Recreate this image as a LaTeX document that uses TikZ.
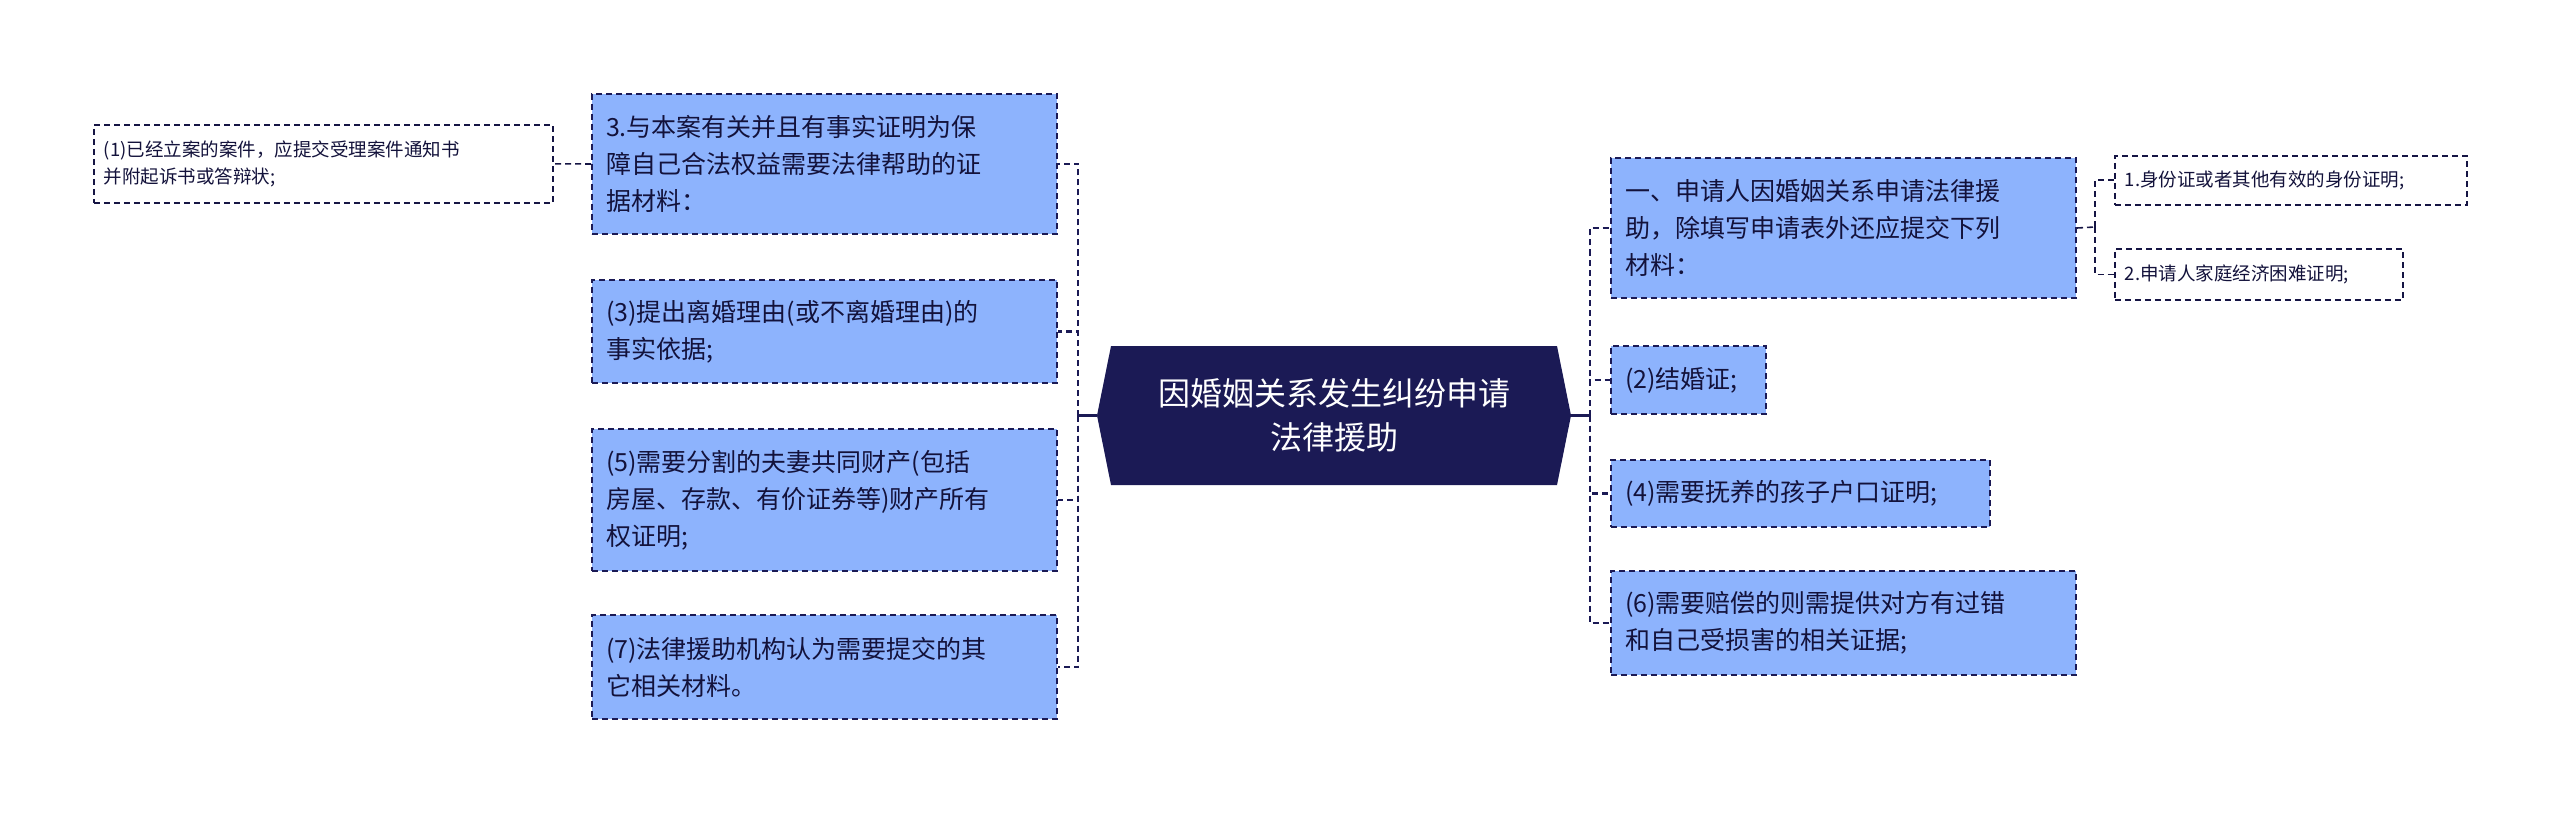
\documentclass[tikz,border=0pt]{standalone}
\usepackage{fontspec}
\setmainfont{Noto Sans CJK SC}
\definecolor{navy}{HTML}{1B1A55}
\definecolor{boxblue}{HTML}{8DB3FD}
\begin{document}
\begin{tikzpicture}[x=1pt,y=1pt,
  mainbox/.style={draw=navy,fill=boxblue,dashed,line width=2pt,dash pattern=on 6pt off 4pt,anchor=north west,align=left,inner xsep=14pt,inner ysep=0pt,font=\fontsize{25}{37}\selectfont,text=navy!70!black,minimum height=#1},
  subbox/.style={draw=navy!80!black,fill=white,line width=1.6pt,dash pattern=on 6pt off 4pt,anchor=north west,align=left,inner xsep=10pt,inner ysep=0pt,font=\fontsize{18.5}{27}\selectfont,text=navy!70!black,minimum height=#1},
  link/.style={draw=navy,line width=2.6pt,dash pattern=on 6pt off 4pt},
  sublink/.style={draw=navy!80!black,line width=1.6pt,dash pattern=on 6pt off 4pt}]
\useasboundingbox (0,0) rectangle (2560,-813);
% centre
\node[minimum width=474pt,minimum height=139pt,inner sep=0pt] (c) at (1334,-415.5) {};
\fill[navy] (1111,-346) -- (1557,-346) -- (1571,-415.5) -- (1557,-485) -- (1111,-485) -- (1097,-415.5) -- cycle;
\node[text=white,align=center,font=\fontsize{32}{44}\selectfont] at (c.center) {因婚姻关系发生纠纷申请\\法律援助};
% left boxes
\node[mainbox=140pt,text width=437pt] (a) at (591,-93) {3.与本案有关并且有事实证明为保\\障自己合法权益需要法律帮助的证\\据材料：};
\node[mainbox=103pt,text width=437pt] (b) at (591,-279) {(3)提出离婚理由(或不离婚理由)的\\事实依据;};
\node[mainbox=142pt,text width=437pt] (d) at (591,-428) {(5)需要分割的夫妻共同财产(包括\\房屋、存款、有价证券等)财产所有\\权证明;};
\node[mainbox=104pt,text width=437pt] (e) at (591,-614) {(7)法律援助机构认为需要提交的其\\它相关材料。};
\node[subbox=78pt,text width=439pt] (ll) at (93,-124) {(1)已经立案的案件，应提交受理案件通知书\\并附起诉书或答辩状;};
% right boxes
\node[mainbox=140pt,text width=437pt] (r1) at (1610,-157) {一、申请人因婚姻关系申请法律援\\助，除填写申请表外还应提交下列\\材料：};
\node[mainbox=68pt,text width=127pt] (r2) at (1610,-345) {(2)结婚证;};
\node[mainbox=67pt,text width=351pt] (r3) at (1610,-459) {(4)需要抚养的孩子户口证明;};
\node[mainbox=104pt,text width=437pt] (r4) at (1610,-570) {(6)需要赔偿的则需提供对方有过错\\和自己受损害的相关证据;};
\node[subbox=49pt,text width=332pt] (rr1) at (2114,-155) {1.身份证或者其他有效的身份证明;};
\node[subbox=51pt,text width=268pt] (rr2) at (2114,-248) {2.申请人家庭经济困难证明;};
% connectors
\coordinate (lt) at (1078,-415.5);
\coordinate (rt) at (1590,-415.5);
\draw[navy,line width=2.6pt] (c.west) -- (lt);
\draw[navy,line width=2.6pt] (c.east) -- (rt);
\foreach \n in {a,b,d,e} \draw[link] (lt) |- (\n.east);
\foreach \n in {r1,r2,r3,r4} \draw[link] (rt) |- (\n.west);
\draw[sublink] (a.west) -- (ll.east);
\coordinate (st) at (2095,-227);
\draw[sublink] (r1.east) -- (st);
\foreach \n in {rr1,rr2} \draw[sublink] (st) |- (\n.west);
\end{tikzpicture}
\end{document}
